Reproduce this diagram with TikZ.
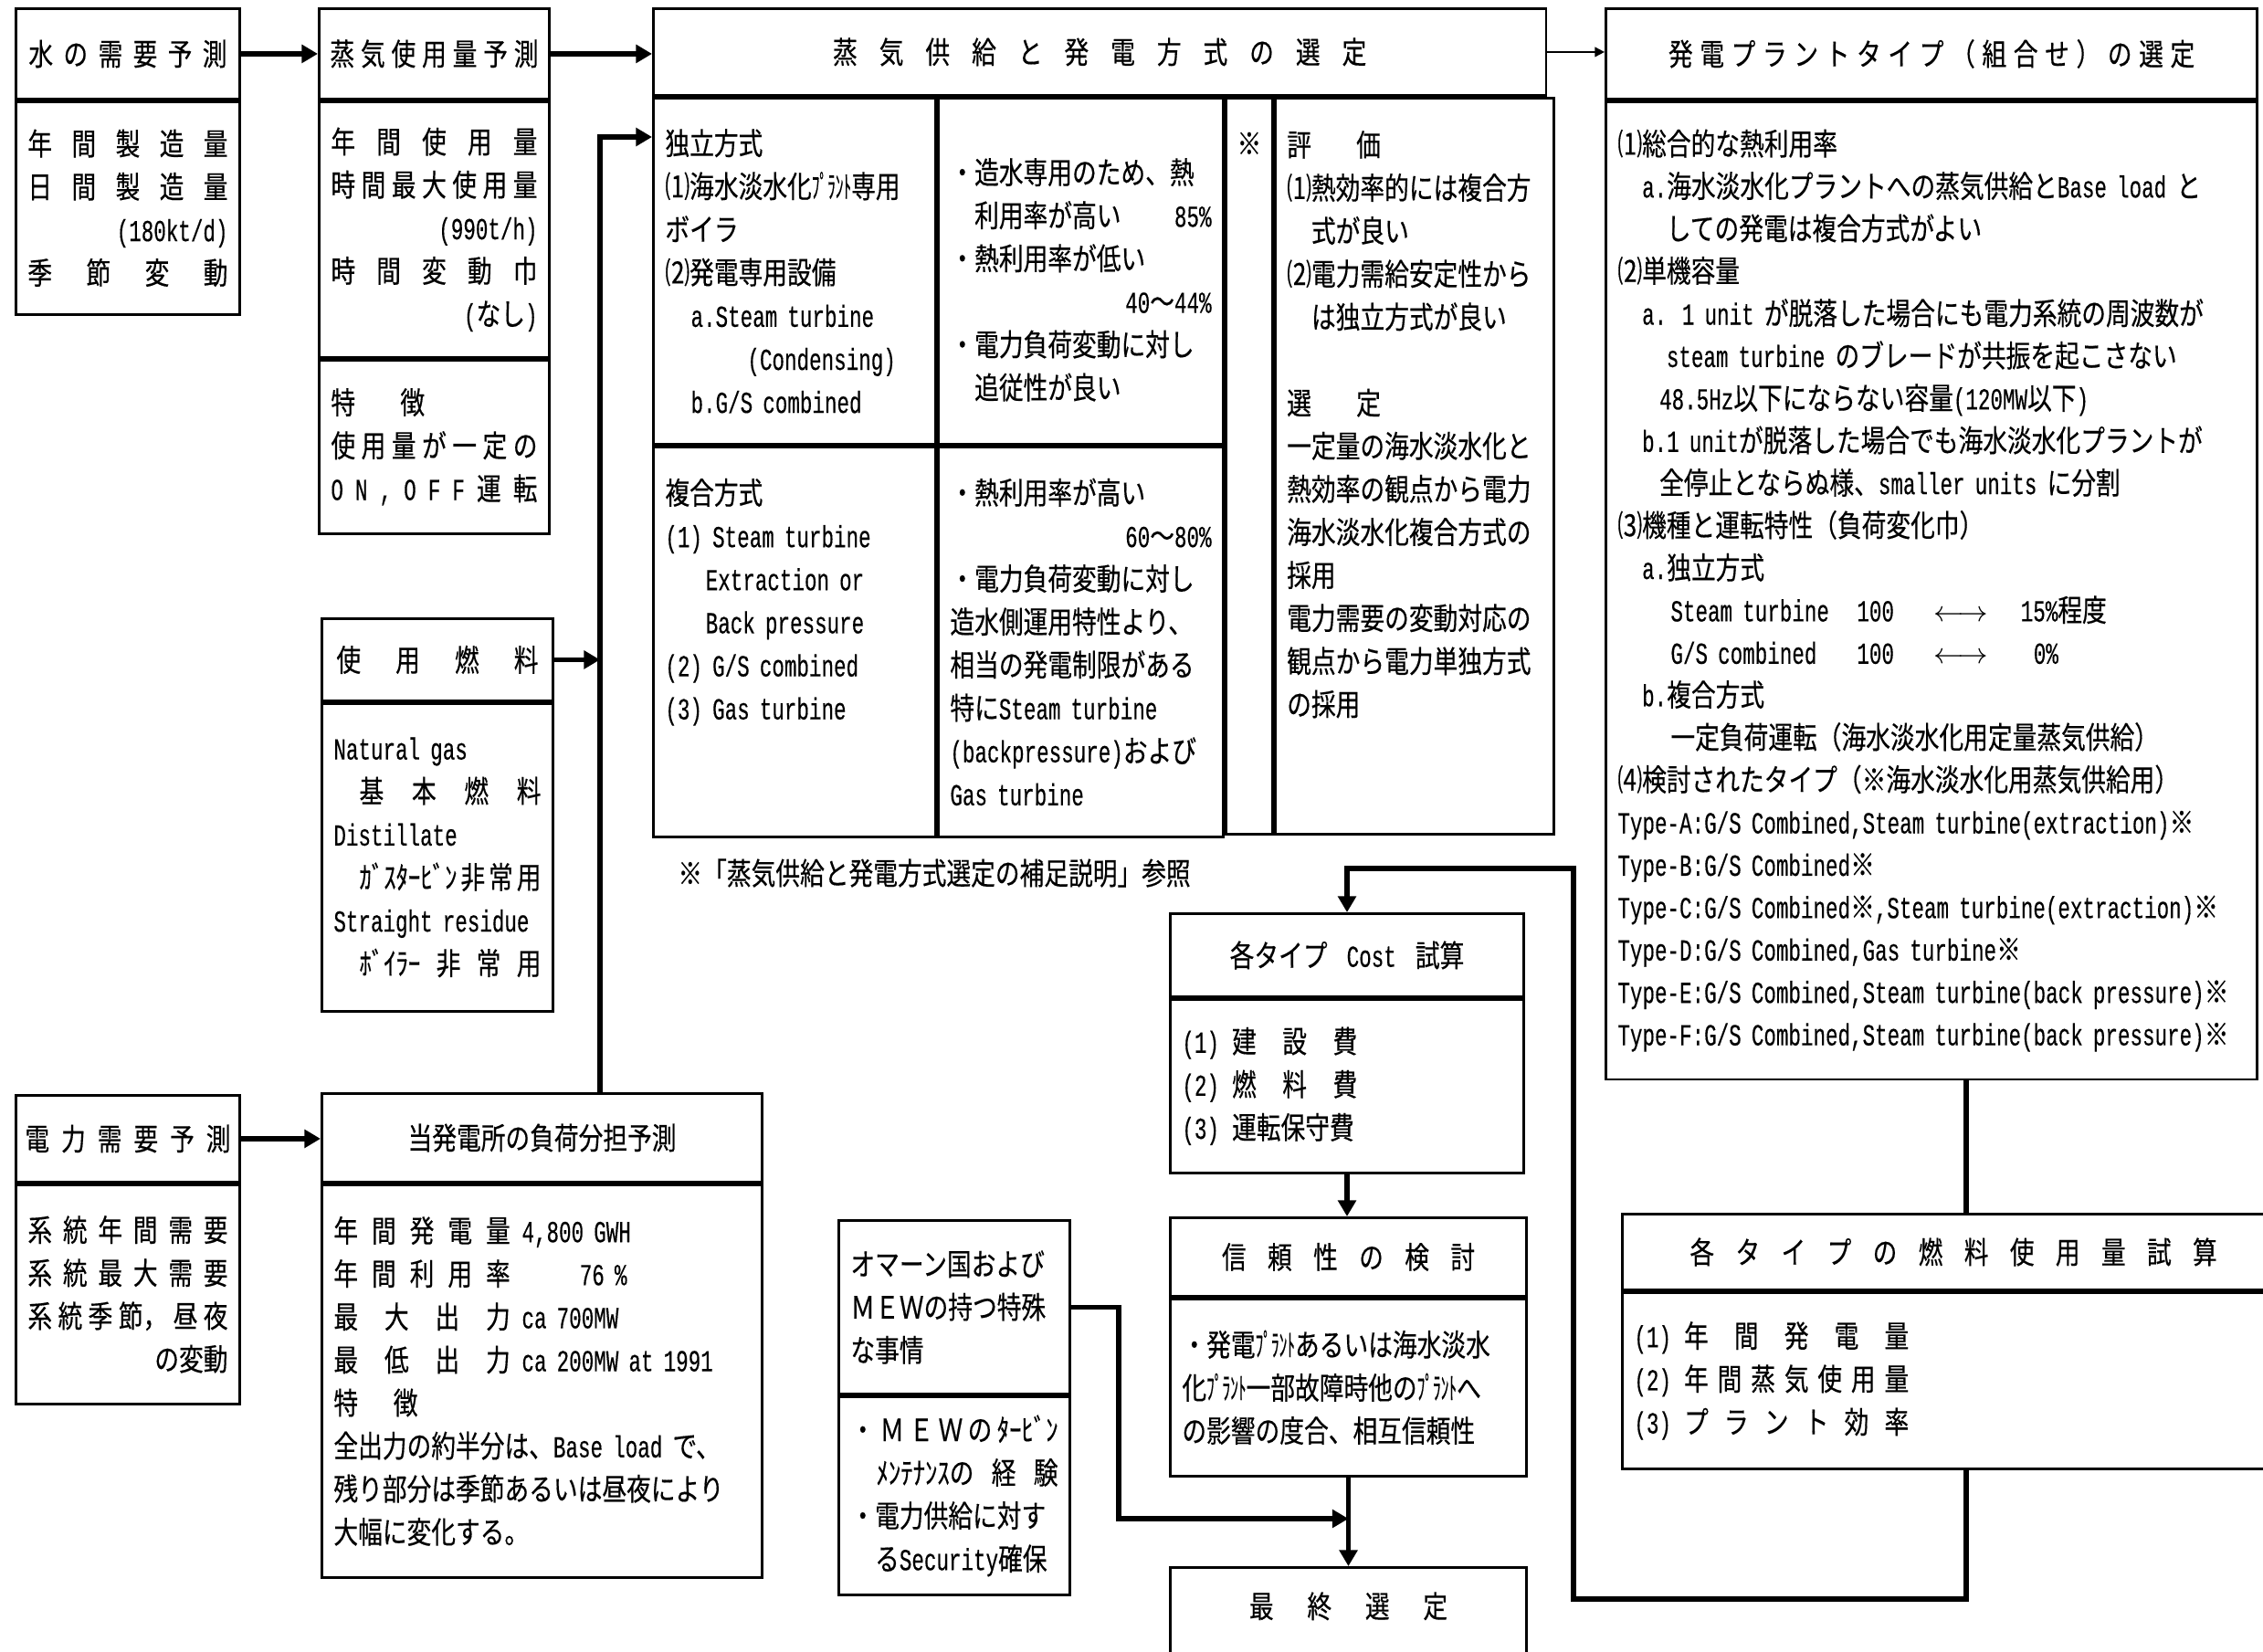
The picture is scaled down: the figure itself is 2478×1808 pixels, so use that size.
\documentclass[tikz,border=0pt]{standalone}
\usepackage{fontspec}
\usepackage{graphicx}
\setmainfont{Noto Sans CJK JP}[FakeStretch=0.8,FakeBold=0.4]
\newfontfamily\enfont{Liberation Mono}[FakeStretch=0.675,FakeBold=0.3]
\newcommand\en[1]{{\enfont #1}}
\newcommand\hk[1]{\scalebox{0.65}[1]{#1}}
\newcommand\spread[2]{\makebox[#1][s]{\spaceskip=0pt plus 1fil\xspaceskip=0pt plus 1fil #2}}
\newcommand\fillline[2][0pt]{\hspace*{#1}\spread{\dimexpr\linewidth-#1\relax}{#2}}
\usetikzlibrary{arrows.meta,positioning}

\begin{document}
\begin{tikzpicture}[x=0.01cm,y=-0.01cm,font=\fontsize{9.5}{13.4}\selectfont,
  head/.style={draw,line width=0.8pt,inner sep=0pt,align=center},
  body/.style={draw,line width=0.8pt,inner xsep=0.13cm,inner ysep=0pt,align=left},
  flow/.style={-{Triangle[length=5pt,width=5.5pt]},line width=1.5pt},
  link/.style={line width=1.5pt},
  dimflow/.style={-{Triangle[length=3pt,width=3pt]},line width=0.5pt}]
\useasboundingbox (0,0) rectangle (2478,1808);

\node[head,anchor=north west,minimum width=2.45cm,minimum height=0.99cm] (water) at (16,8) {\spread{2.17cm}{水 の 需 要 予 測}};
\node[body,below=0pt of water,minimum width=2.45cm,text width=2.19cm,minimum height=2.33cm] (waterb) {\fillline{年 間 製 造 量}\\\fillline{日 間 製 造 量}\\\hfill\en{(180kt/d)}\\\fillline{季 節 変 動}};

\node[head,anchor=north west,minimum width=2.52cm,minimum height=0.99cm] (steam) at (348,8) {\spread{2.28cm}{蒸 気 使 用 量 予 測}};
\node[body,below=0pt of steam,minimum width=2.52cm,text width=2.26cm,minimum height=2.80cm] (steamb) {\fillline{年 間 使 用 量}\\\fillline{時 間 最 大 使 用 量}\\\hfill\en{(990t/h)}\\\fillline{時 間 変 動 巾}\\\hfill\en{(}なし\en{)}};
\node[body,below=0pt of steamb,minimum width=2.52cm,text width=2.26cm,minimum height=1.90cm] (steamc) {特\hspace{14pt}徴\\\fillline{使 用 量 が 一 定 の}\\\fillline{\en{O} \en{N} \en{,} \en{O} \en{F} \en{F} 運 転}};

\node[head,anchor=north west,minimum width=9.77cm,minimum height=0.95cm] (sup) at (714,8) {\spread{5.84cm}{蒸 気 供 給 と 発 電 方 式 の 選 定}};
\node[body,below right=0pt and 0pt of sup.south west,minimum width=3.09cm,text width=2.83cm,minimum height=3.79cm] (c1a) {独立方式\\⑴海水淡水化\hk{ﾌﾟﾗﾝﾄ}専用\\ボイラ\\⑵発電専用設備\\\hspace*{8pt}\en{a.Steam turbine}\\\hspace*{25.6pt}\en{(Condensing)}\\\hspace*{8pt}\en{b.G/S combined}};
\node[body,right=0pt of c1a,minimum width=3.12cm,text width=2.86cm,minimum height=3.79cm] (c2a) {\mbox{}\\・造水専用のため、熱\\\hspace*{7.6pt}利用率が高い\hfill\en{85\%}\\・熱利用率が低い\\\hfill\en{40}～\en{44\%}\\・電力負荷変動に対し\\\hspace*{7.6pt}追従性が良い};
\node[body,below right=0pt and 0pt of c2a.north east,inner xsep=0.1cm,minimum width=0.51cm,text width=0.31cm,minimum height=8.06cm,align=center] (c3) {※\\[187.6pt]\mbox{}};
\node[body,right=0pt of c3,minimum width=3.05cm,text width=2.79cm,minimum height=8.06cm] (c4) {評\hspace{14pt}価\\⑴熱効率的には複合方\\\hspace*{7.6pt}式が良い\\⑵電力需給安定性から\\\hspace*{7.6pt}は独立方式が良い\\\mbox{}\\選\hspace{14pt}定\\一定量の海水淡水化と\\熱効率の観点から電力\\海水淡水化複合方式の\\採用\\電力需要の変動対応の\\観点から電力単独方式\\の採用\\[13.4pt]\mbox{}};
\node[body,below=0pt of c1a,minimum width=3.09cm,text width=2.83cm,minimum height=4.27cm] (c1b) {複合方式\\\en{(1) Steam turbine}\\\hspace*{12.6pt}\en{Extraction or}\\\hspace*{12.6pt}\en{Back pressure}\\\en{(2) G/S combined}\\\en{(3) Gas turbine}\\[13.4pt]\mbox{}};
\node[body,below=0pt of c2a,minimum width=3.12cm,text width=2.86cm,minimum height=4.27cm] (c2b) {・熱利用率が高い\\\hfill\en{60}～\en{80\%}\\・電力負荷変動に対し\\造水側運用特性より、\\相当の発電制限がある\\特に\en{Steam turbine}\\\en{(backpressure)}および\\\en{Gas turbine}};
\node[anchor=west] (note) at (730,956) {※「蒸気供給と発電方式選定の補足説明」参照};

\node[head,anchor=north west,minimum width=7.13cm,minimum height=0.99cm] (plant) at (1757,8) {\spread{5.76cm}{発 電 プ ラ ン ト タ イ プ （ 組 合 せ ） の 選 定}};
\node[body,below=0pt of plant,minimum width=7.13cm,text width=6.87cm,minimum height=10.70cm,font=\fontsize{9.5}{13.2}\selectfont] (plantb) {⑴総合的な熱利用率\\
\hspace*{7.6pt}\en{a.}海水淡水化プラントへの蒸気供給と\en{Base load} と\\
\hspace*{15.2pt}しての発電は複合方式がよい\\
⑵単機容量\\
\hspace*{7.6pt}\en{a. 1 unit} が脱落した場合にも電力系統の周波数が\\
\hspace*{15.2pt}\en{steam turbine} のブレードが共振を起こさない\\
\hspace*{13pt}\en{48.5Hz}以下にならない容量\en{(120MW}以下\en{)}\\
\hspace*{7.6pt}\en{b.1 unit}が脱落した場合でも海水淡水化プラントが\\
\hspace*{13pt}全停止とならぬ様、\en{smaller units} に分割\\
⑶機種と運転特性（負荷変化巾）\\
\hspace*{7.6pt}\en{a.}独立方式\\
\hspace*{16.5pt}\makebox[58pt][l]{\en{Steam turbine}}\makebox[24pt][l]{\en{100}}\makebox[27pt][l]{$\longleftrightarrow$}\en{15\%}程度\\
\hspace*{16.5pt}\makebox[58pt][l]{\en{G/S combined}}\makebox[24pt][l]{\en{100}}\makebox[27pt][l]{$\longleftrightarrow$}\hspace{4pt}\en{0\%}\\
\hspace*{7.6pt}\en{b.}複合方式\\
\hspace*{16.5pt}一定負荷運転（海水淡水化用定量蒸気供給）\\
⑷検討されたタイプ（※海水淡水化用蒸気供給用）\\
\en{Type-A:G/S Combined,Steam turbine(extraction)}※\\
\en{Type-B:G/S Combined}※\\
\en{Type-C:G/S Combined}※\en{,Steam turbine(extraction)}※\\
\en{Type-D:G/S Combined,Gas turbine}※\\
\en{Type-E:G/S Combined,Steam turbine(back pressure)}※\\
\en{Type-F:G/S Combined,Steam turbine(back pressure)}※};

\node[head,anchor=north west,minimum width=2.53cm,minimum height=0.90cm] (fuel) at (351,676) {\spread{2.21cm}{使 用 燃 料}};
\node[body,below=0pt of fuel,minimum width=2.53cm,text width=2.27cm,minimum height=3.37cm] (fuelb) {\en{Natural gas}\\\fillline[8pt]{基 本 燃 料}\\\en{Distillate}\\\fillline[8pt]{ｶﾞｽﾀｰﾋﾞﾝ 非 常 用}\\\en{Straight residue}\\\fillline[8pt]{ﾎﾞｲﾗｰ 非 常 用}};

\node[head,anchor=north west,minimum width=2.45cm,minimum height=0.95cm] (power) at (16,1198) {\spread{2.25cm}{電 力 需 要 予 測}};
\node[body,below=0pt of power,minimum width=2.45cm,text width=2.19cm,minimum height=2.40cm] (powerb) {\fillline{系 統 年 間 需 要}\\\fillline{系 統 最 大 需 要}\\\fillline{系 統 季 節， 昼 夜}\\\hfill の変動};

\node[head,anchor=north west,minimum width=4.82cm,minimum height=0.97cm] (load) at (351,1196) {当発電所の負荷分担予測};
\node[body,below=0pt of load,minimum width=4.82cm,text width=4.56cm,minimum height=4.30cm] (loadb) {\spread{55pt}{年 間 発 電 量}\hspace{3.6pt}\en{4,800 GWH}\\
\spread{55pt}{年 間 利 用 率}\hspace{21.6pt}\en{76 \%}\\
\spread{55pt}{最 大 出 力}\hspace{3.6pt}\en{ca 700MW}\\
\spread{55pt}{最 低 出 力}\hspace{3.6pt}\en{ca 200MW at 1991}\\
特\hspace{11pt}徴\\
全出力の約半分は、\en{Base load} で、\\
残り部分は季節あるいは昼夜により\\
大幅に変化する。};

\node[head,anchor=north west,minimum width=3.87cm,minimum height=0.91cm] (cost) at (1280,999) {各タイプ\hspace{6pt}\en{Cost}\hspace{6pt}試算};
\node[body,below=0pt of cost,minimum width=3.87cm,text width=3.61cm,minimum height=1.90cm] (costb) {\en{(1)}\hspace{4pt}\spread{39pt}{建 設 費}\\\en{(2)}\hspace{4pt}\spread{39pt}{燃 料 費}\\\en{(3)}\hspace{4pt}運転保守費};

\node[head,anchor=north west,minimum width=3.90cm,minimum height=0.86cm] (rel) at (1280,1332) {\spread{2.77cm}{信 頼 性 の 検 討}};
\node[body,below=0pt of rel,minimum width=3.90cm,text width=3.64cm,minimum height=1.94cm] (relb) {・発電\hk{ﾌﾟﾗﾝﾄ}あるいは海水淡水\\化\hk{ﾌﾟﾗﾝﾄ}一部故障時他の\hk{ﾌﾟﾗﾝﾄ}へ\\の影響の度合、相互信頼性};

\node[body,anchor=north west,minimum width=2.53cm,text width=2.27cm,minimum height=1.90cm] (oman) at (917,1335) {オマーン国および\\ＭＥＷの持つ特殊\\な事情};
\node[body,below=0pt of oman,minimum width=2.53cm,text width=2.27cm,minimum height=2.17cm] (omanb) {\fillline{・ Ｍ Ｅ Ｗ の ﾀｰﾋﾞﾝ}\\\fillline[8pt]{ﾒﾝﾃﾅﾝｽの 経 験}\\・電力供給に対す\\\hspace*{7.6pt}る\en{Security}確保};

\node[head,anchor=north west,minimum width=3.90cm,text height=0.55cm,text depth=0.6cm] (final) at (1280,1715) {\spread{2.17cm}{最 終 選 定}};

\node[head,anchor=north west,minimum width=7.25cm,minimum height=0.83cm] (fuelu) at (1775,1328) {\spread{5.77cm}{各 タ イ プ の 燃 料 使 用 量 試 算}};
\node[body,below=0pt of fuelu,minimum width=7.25cm,text width=6.99cm,minimum height=1.93cm] (fuelub) {\en{(1)}\hspace{4pt}\spread{70pt}{年 間 発 電 量}\\\en{(2)}\hspace{4pt}\spread{70pt}{年 間 蒸 気 使 用 量}\\\en{(3)}\hspace{4pt}\spread{70pt}{プ ラ ン ト 効 率}};

\coordinate (trunk) at (657,150);
\coordinate (drop) at (2153,1250);
\coordinate (loopr) at (2153,1751);
\coordinate (loopl) at (1723,951);
\coordinate (join) at (1225,1663);

\draw[flow] (water.east) -- (steam.west);
\draw[flow] (steam.east) -- (steam.east -| sup.west);
\draw[dimflow] (sup.east) -- (sup.east -| plant.west);
\draw[flow] (load.north -| trunk) -- (trunk) -- (trunk -| c1a.west);
\draw[flow] (fuel.east) -- (fuel.east -| trunk);
\draw[flow] (power.east) -- (power.east -| load.west);
\draw[link] (plantb.south -| drop) -- (fuelu.north -| drop);
\draw[flow] (fuelub.south -| loopr) -- (loopr) -| (loopl) -| (cost.north);
\draw[flow] (costb.south) -- (costb.south |- rel.north);
\draw[flow] (relb.south) -- (final.north);
\draw[flow] (oman.east) -| (join) -- (join -| final.north);
\end{tikzpicture}
\end{document}
